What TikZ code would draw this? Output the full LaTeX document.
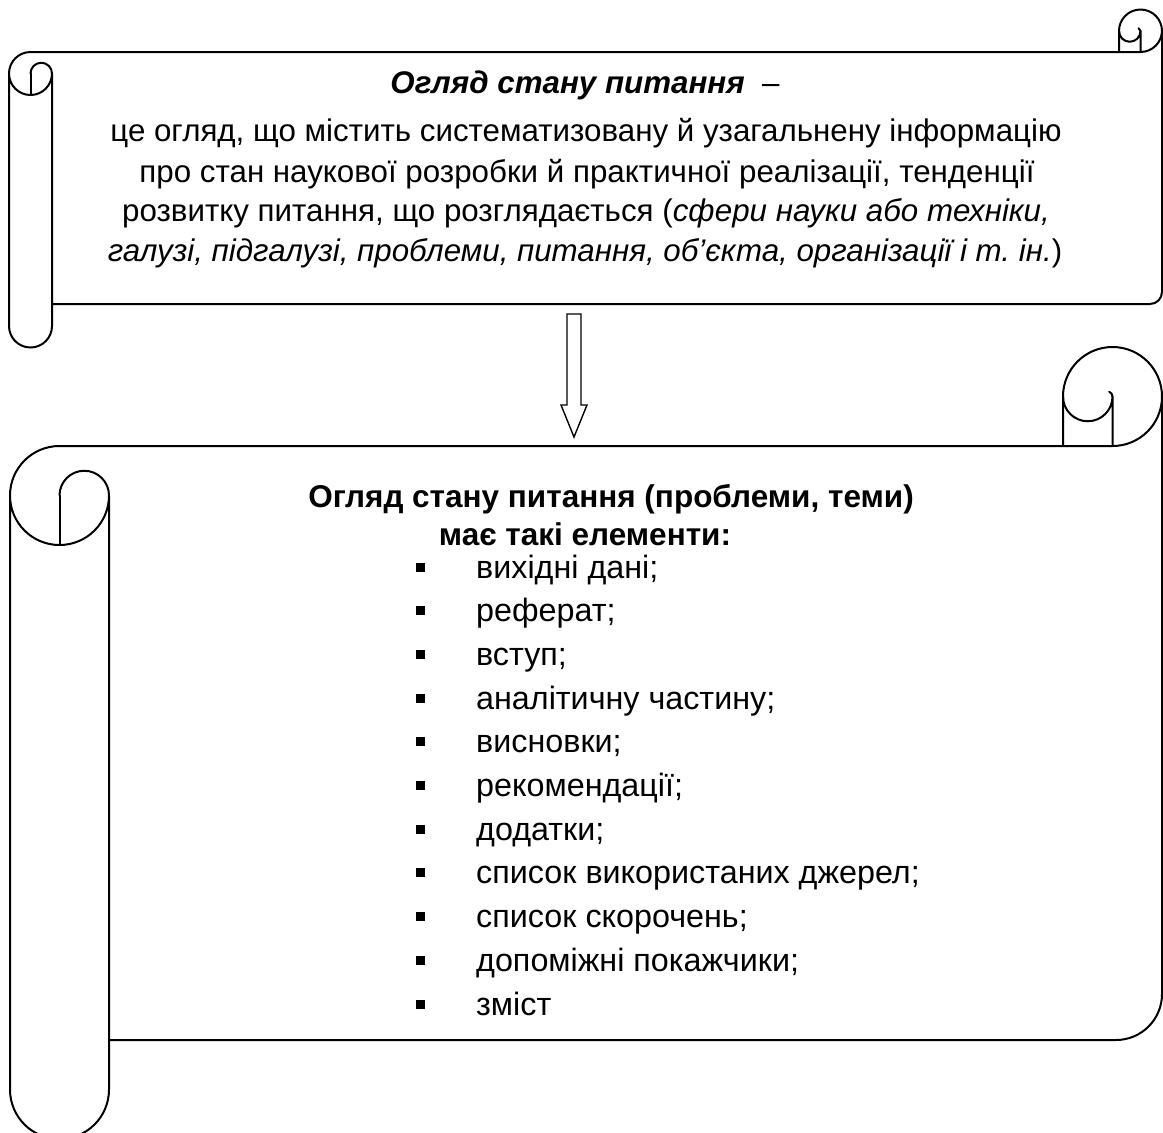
\documentclass[tikz,border=0pt]{standalone}
\usepackage{fontspec}
\setmainfont{Liberation Sans}
\frenchspacing
\begin{document}
\begin{tikzpicture}[x=1pt,y=1pt,
  scroll/.style={draw=black, line width=2pt, line join=round, line cap=round},
  hollowarrow/.style={draw=black, line width=1.4pt, line join=miter},
  txt/.style={font=\fontsize{31.3}{40}\selectfont, inner sep=0pt, anchor=base},
  head/.style={font=\fontsize{31.5}{40}\selectfont\bfseries, inner sep=0pt, anchor=base},
  itemtxt/.style={font=\fontsize{32.3}{40}\selectfont, inner sep=0pt, anchor=base west},
  bul/.style={fill=black, draw=none, minimum size=9pt, inner sep=0pt}]
\path[use as bounding box, clip] (0,0) rectangle (1163,-1133);
\fill[white] (0,0) rectangle (1163,-1133);

% ---------- top scroll (r = 21.5) ----------
\draw[scroll] (30.5,-52) -- (1140.5,-52) arc[start angle=-90, end angle=0, radius=21.5]
  -- (1162,-292) arc[start angle=0, end angle=-90, radius=12] -- (52,-304);
\draw[scroll] (1162,-31) arc[start angle=0, end angle=180, radius=21.5] -- (1119,-52);
\draw[scroll] (1119,-31) arc[start angle=180, end angle=360, radius=10.75] -- (1140.5,-52);
\draw[scroll] (1140.5,-31) arc[start angle=0, end angle=70, radius=3];
\draw[scroll] (30.5,-52) arc[start angle=90, end angle=360, radius=21.5]
  -- (52,-326) arc[start angle=0, end angle=-180, radius=21.5] -- (9,-73.5);
\draw[scroll] (30.5,-73.5) arc[start angle=180, end angle=0, radius=10.75];
\draw[scroll] (30.5,-73.5) -- (30.5,-95);

% ---------- bottom scroll (r = 49.5) ----------
\draw[scroll] (59.5,-446) -- (1112.5,-446) arc[start angle=-90, end angle=0, radius=49.5]
  -- (1162,-994) arc[start angle=0, end angle=-90, radius=46] -- (109,-1040);
\draw[scroll] (1162,-396.5) arc[start angle=0, end angle=180, radius=49.5] -- (1063,-446);
\draw[scroll] (1063,-396.5) arc[start angle=180, end angle=360, radius=24.75] -- (1112.5,-446);
\draw[scroll] (1112.5,-396.5) arc[start angle=0, end angle=70, radius=5];
\draw[scroll] (59.5,-446) arc[start angle=90, end angle=360, radius=49.5]
  -- (109,-1089.5) arc[start angle=0, end angle=-180, radius=49.5] -- (10,-495.5);
\draw[scroll] (59.5,-495.5) arc[start angle=180, end angle=0, radius=24.75];
\draw[scroll] (59.5,-495.5) -- (59.5,-545);

% ---------- texts of the top scroll ----------
\node[txt] (t1) at (585,-93) {\textbf{\textit{Огляд стану питання}}\ \ –};
\node[txt] (t2) at (586,-141) {це огляд, що містить систематизовану й узагальнену інформацію};
\node[txt] (t3) at (587,-182) {про стан наукової розробки й практичної реалізації, тенденції};
\node[txt] (t4) at (586,-221) {розвитку питання, що розглядається (\textit{сфери науки або техніки,}};
\node[txt] (t5) at (585,-261) {\textit{галузі, підгалузі, проблеми, питання, об’єкта, організації і т. ін.})};

% ---------- arrow ----------
\coordinate (as) at (574,-314);
\coordinate (ae) at (574,-437);
\draw[hollowarrow] ([xshift=-7pt]as) -- ([xshift=7pt]as) -- ([xshift=7pt,yshift=32pt]ae)
  -- ([xshift=13pt,yshift=32pt]ae) -- (ae) -- ([xshift=-13pt,yshift=32pt]ae)
  -- ([xshift=-7pt,yshift=32pt]ae) -- cycle;

% ---------- texts of the bottom scroll ----------
\node[head] (h1) at (611,-507) {Огляд стану питання (проблеми, теми)};
\node[head] (h2) at (585,-545) {має такі елементи:};

\foreach \k/\s in {0/{вихідні дані;},1/{реферат;},2/{вступ;},3/{аналітичну частину;},
  4/{висновки;},5/{рекомендації;},6/{додатки;},7/{список використаних джерел;},
  8/{список скорочень;},9/{допоміжні покажчики;},10/{зміст}}{
  \node[itemtxt] (i\k) at (476,-578-43.7*\k) {\s};
  \node[bul] (b\k) at (420,-567-43.7*\k) {};
}
\end{tikzpicture}
\end{document}
